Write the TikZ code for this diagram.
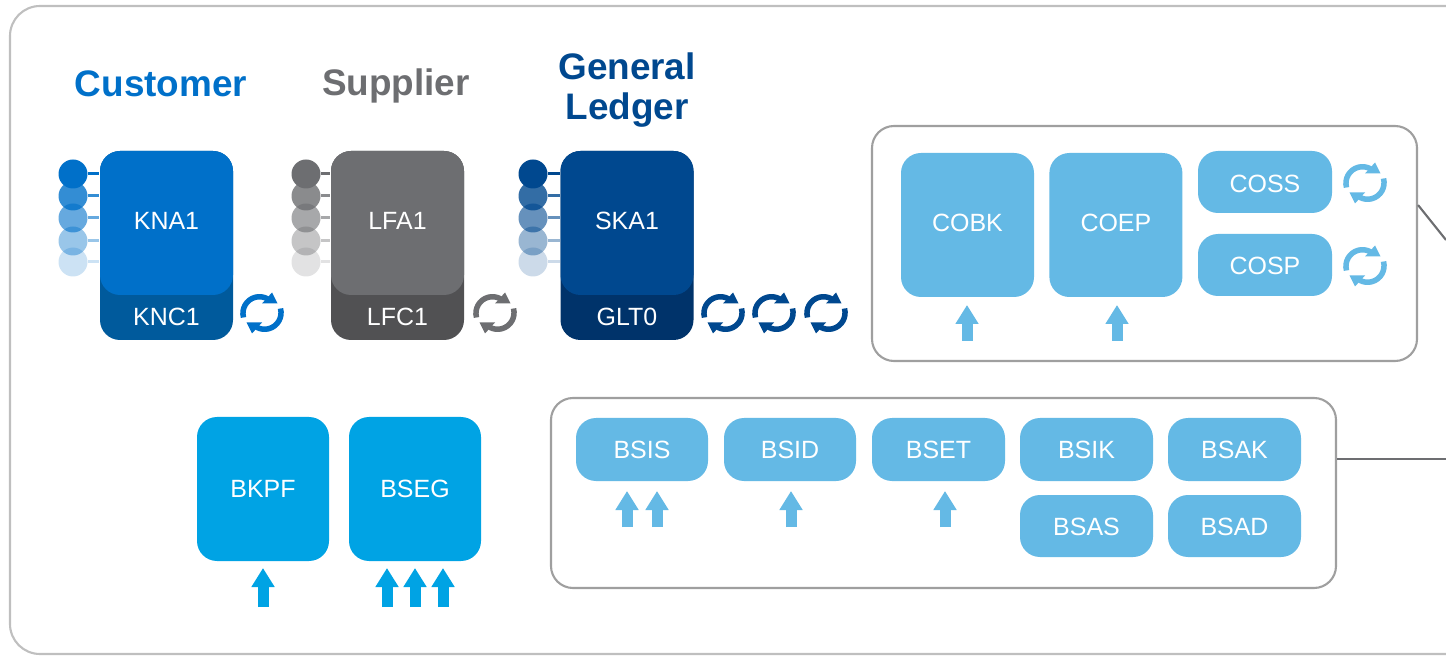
\documentclass[tikz,border=0pt]{standalone}
\usepackage{fontspec}
\setmainfont{Liberation Sans}
\usepackage{xcolor}
\usetikzlibrary{arrows.meta, positioning}
\definecolor{custBlue}{HTML}{0070C9}
\definecolor{custDark}{HTML}{005A9C}
\definecolor{suppGray}{HTML}{6D6E71}
\definecolor{suppDark}{HTML}{515153}
\definecolor{ledgBlue}{HTML}{00488F}
\definecolor{ledgDark}{HTML}{00336A}
\definecolor{docBlue}{HTML}{00A3E4}
\definecolor{tabBlue}{HTML}{64B9E5}
\tikzset{
  tabbox/.style={fill=#1, rounded corners=0.2cm, inner sep=0pt, text=white, text height=0.18cm, text depth=0pt, font=\fontsize{7.1}{8}\selectfont},
  title/.style={font=\fontsize{10.5}{11.4}\selectfont\bfseries, align=center, text=#1},
  frame/.style={draw=gray!75, line width=0.6pt, fill=white, rounded corners=0.22cm, inner sep=0pt},
  uparrow/.style={draw=#1, line width=0.11cm, -{Triangle[length=0.19cm,width=0.22cm]}},
  syncicon/.pic={
    \foreach \r in {0,180} {
      \draw[rotate=\r, #1, line width=0.055cm] (-0.185,-0.045) arc (195:60:0.165);
      \fill[rotate=\r, #1] (0.1,0.205) -- (0.155,0.095) -- (0,0.095) -- cycle;
    }
  }
}
\begin{document}
\begin{tikzpicture}
\useasboundingbox (0,0) rectangle (14.46,6.55);
\clip (0,0) rectangle (14.46,6.55);
% outer frame runs off the page
\draw[gray!50, line width=0.6pt, rounded corners=0.3cm] (14.8,6.49) -- (0.1,6.49) -- (0.1,0.01) -- (14.8,0.01);

% titles
\node[title=custBlue] (custTitle) at (1.61,5.71) {Customer};
\node[title=suppGray] (suppTitle) at (3.96,5.69) {Supplier};
\node[title=ledgBlue] (ledgTitle) at (6.27,5.65) {General\\Ledger};

% master data blocks with their dots
\foreach \nm/\x/\dx/\cl/\cd/\ta/\tb in {cust/1.665/0.73/custBlue/custDark/KNA1/KNC1,
    supp/3.975/3.06/suppGray/suppDark/LFA1/LFC1,
    ledg/6.27/5.33/ledgBlue/ledgDark/SKA1/GLT0} {
  \node[tabbox=\cd, minimum width=1.33cm, minimum height=1.89cm] (\nm Base) at (\x,4.095) {};
  \foreach \i/\y/\op/\pc in {5/3.93/0.2/20,4/4.14/0.4/40,3/4.37/0.6/60,2/4.59/0.8/80,1/4.81/1/100} {
    \node[circle, fill=\cl, fill opacity=\op, minimum size=0.29cm, inner sep=0pt] (\nm Dot\i) at (\dx,\y) {};
    \draw[\cl!\pc, line width=0.03cm] (\nm Dot\i.east) -- (\nm Dot\i.east -| \nm Base.west);
  }
  \node[tabbox=\cl, minimum width=1.33cm, minimum height=1.44cm] (\nm Top) at (\x,4.32) {};
  \node[text=white, font=\fontsize{7.1}{8}\selectfont] (\nm Head) at (\x,4.34) {\ta};
  \node[text=white, font=\fontsize{7.1}{8}\selectfont] (\nm Foot) at (\x,3.38) {\tb};
}
\pic at (2.62,3.42) {syncicon=custBlue};
\pic at (4.95,3.42) {syncicon=suppGray};
\foreach \x in {7.23,7.74,8.26} {
  \pic at (\x,3.42) {syncicon=ledgBlue};
}

% connectors leaving the frames
\node[frame, minimum width=5.45cm, minimum height=2.35cm] (coBox) at (11.445,4.115) {};
\node[frame, minimum width=7.85cm, minimum height=1.9cm] (bsBox) at (9.435,1.62) {};
\coordinate (coEnd) at (14.46,4.15);
\draw[suppGray, line width=0.6pt] (coBox.8) -- (coEnd);
\draw[suppGray, line width=0.6pt] (bsBox.5.2) -- (bsBox.5.2 -| coEnd);

% CO tables
\node[tabbox=tabBlue, text depth=0.05cm, minimum width=1.33cm, minimum height=1.44cm] (cobk) at (9.675,4.3) {COBK};
\node[tabbox=tabBlue, text depth=0.05cm, minimum width=1.33cm, minimum height=1.44cm, right=0.14cm of cobk] (coep) {COEP};
\node[tabbox=tabBlue, text height=0.21cm, minimum width=1.34cm, minimum height=0.62cm] (coss) at (12.65,4.73) {COSS};
\node[tabbox=tabBlue, text height=0.2cm, minimum width=1.34cm, minimum height=0.62cm] (cosp) at (12.65,3.9) {COSP};
\pic at (13.65,4.72) {syncicon=tabBlue};
\pic at (13.65,3.89) {syncicon=tabBlue};
\foreach \x in {9.67,11.17} {
  \draw[uparrow=tabBlue] (\x,3.14) -- (\x,3.5);
}

% BS tables
\node[tabbox=tabBlue, minimum width=1.32cm, minimum height=0.63cm] (bsis) at (6.42,2.055) {BSIS};
\node[tabbox=tabBlue, minimum width=1.32cm, minimum height=0.63cm] (bsid) at (7.9,2.055) {BSID};
\node[tabbox=tabBlue, minimum width=1.33cm, minimum height=0.63cm] (bset) at (9.385,2.055) {BSET};
\node[tabbox=tabBlue, minimum width=1.33cm, minimum height=0.63cm] (bsik) at (10.865,2.055) {BSIK};
\node[tabbox=tabBlue, minimum width=1.33cm, minimum height=0.63cm] (bsak) at (12.345,2.055) {BSAK};
\node[tabbox=tabBlue, minimum width=1.33cm, minimum height=0.62cm] (bsas) at (10.865,1.29) {BSAS};
\node[tabbox=tabBlue, minimum width=1.33cm, minimum height=0.62cm] (bsad) at (12.345,1.29) {BSAD};
\foreach \x in {6.27,6.57,7.91,9.45} {
  \draw[uparrow=tabBlue] (\x,1.28) -- (\x,1.64);
}

% document tables
\node[tabbox=docBlue, minimum width=1.32cm, minimum height=1.44cm] (bkpf) at (2.63,1.66) {BKPF};
\node[tabbox=docBlue, minimum width=1.32cm, minimum height=1.44cm] (bseg) at (4.15,1.66) {BSEG};
\foreach \x in {2.63,3.87,4.15,4.43} {
  \draw[uparrow=docBlue] (\x,0.48) -- (\x,0.87);
}
\end{tikzpicture}
\end{document}
